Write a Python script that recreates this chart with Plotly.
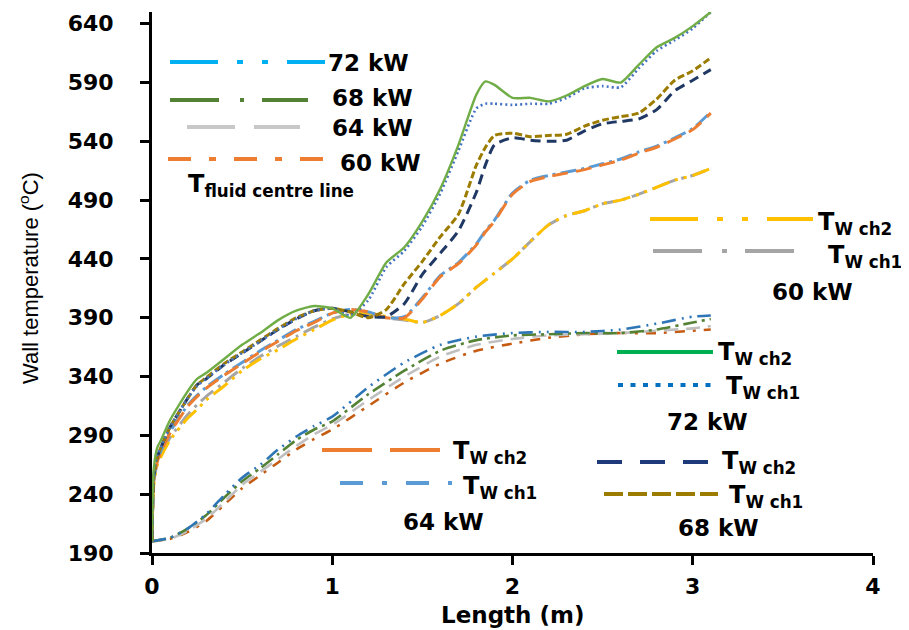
import plotly.graph_objects as go

# ---------------- data ----------------
LENGTH_WALL = [0, 0.01, 0.03, 0.05, 0.1, 0.2, 0.25, 0.3, 0.4, 0.5, 0.6, 0.7, 0.8, 0.9, 1.0,
               1.1, 1.2, 1.3, 1.4, 1.5, 1.6, 1.7, 1.8, 1.85, 1.9, 2.0, 2.1, 2.2, 2.3, 2.4,
               2.5, 2.6, 2.7, 2.8, 2.9, 3.0, 3.1]

TW_CH2_72 = [200, 262, 280, 286, 303, 328, 338, 343, 355, 367, 377, 388, 396, 400, 398,
             390, 410, 437, 450, 472, 500, 537, 580, 591, 588, 577, 577, 574, 579, 587,
             593, 590, 605, 620, 628, 638, 650]
TW_CH1_72 = [200, 258, 274, 280, 297, 322, 332, 338, 350, 360, 370, 380, 389, 396, 398,
             392, 405, 433, 447, 468, 496, 532, 568, 572, 572, 571, 572, 572, 577, 585,
             587, 586, 602, 617, 626, 636, 650]
TW_CH2_68 = [200, 256, 272, 280, 297, 322, 333, 338, 350, 360, 370, 380, 389, 396, 398,
             395, 391, 391, 402, 427, 445, 464, 497, 520, 537, 543, 541, 540, 541, 549,
             555, 557, 559, 567, 583, 592, 601]
TW_CH1_68 = [200, 256, 272, 280, 297, 322, 333, 339, 351, 361, 371, 381, 390, 396, 398,
             395, 390, 397, 419, 438, 459, 478, 520, 535, 545, 547, 544, 545, 546, 553,
             558, 561, 564, 576, 592, 600, 611]
TW_CH2_64 = [200, 252, 268, 276, 292, 315, 323, 330, 341, 351, 361, 370, 379, 386, 394,
             397, 395, 390, 390, 406, 425, 436, 452, 463, 472, 495, 506, 510, 513, 516,
             520, 524, 530, 535, 542, 550, 564]
TW_CH1_64 = [200, 253, 269, 277, 293, 316, 324, 331, 342, 352, 362, 371, 380, 387, 394,
             397, 395, 390, 391, 407, 426, 437, 453, 464, 473, 496, 507, 511, 514, 517,
             521, 525, 531, 536, 543, 551, 565]
TW_CH2_60 = [200, 248, 265, 272, 286, 305, 312, 320, 332, 345, 355, 363, 372, 380, 388,
             393, 394, 391, 389, 386, 392, 402, 416, 422, 428, 440, 455, 469, 477, 481,
             487, 490, 495, 501, 507, 511, 517]
TW_CH1_60 = [200, 250, 267, 274, 288, 308, 316, 323, 335, 347, 357, 366, 374, 382, 389,
             393, 393, 390, 388, 386, 392, 402, 416, 422, 428, 440, 455, 469, 477, 481,
             487, 490, 495, 501, 507, 511, 517]

LENGTH_FLUID = [0, 0.1, 0.2, 0.3, 0.4, 0.5, 0.6, 0.7, 0.8, 0.9, 1.0, 1.2, 1.4, 1.6, 1.8,
                2.0, 2.2, 2.4, 2.6, 2.8, 3.0, 3.1]
TF_72 = [200, 203, 211, 223, 239, 254, 265, 278, 289, 298, 306, 331, 352, 367, 374,
         377, 378, 378, 380, 385, 391, 392]
TF_68 = [200, 203, 211, 222, 237, 251, 262, 274, 286, 295, 302, 325, 345, 362, 371,
         375, 376, 377, 377, 380, 386, 389]
TF_64 = [200, 202, 209, 219, 233, 248, 259, 270, 281, 291, 299, 320, 340, 357, 367,
         372, 375, 376, 377, 379, 381, 383]
TF_60 = [200, 202, 208, 217, 231, 245, 256, 267, 278, 287, 295, 315, 335, 351, 362,
         368, 373, 376, 377, 377, 379, 380]

X_TICKS = [0, 1, 2, 3, 4]
Y_TICKS = [190, 240, 290, 340, 390, 440, 490, 540, 590, 640]

# ---------------- figure ----------------
# the page body has an 8px margin; screen positions below are compensated for it
OFF = 8
W, H = 909, 630
PLOT_X0, PLOT_X1, PLOT_Y0, PLOT_Y1 = 152, 873, 12, 553   # on-screen plot area
L = PLOT_X0 - OFF
T = PLOT_Y0 - OFF
R = W - (PLOT_X1 - OFF)
B = H - (PLOT_Y1 - OFF)
PW, PH = PLOT_X1 - PLOT_X0, PLOT_Y1 - PLOT_Y0

fig = go.Figure()

def add(x, y, color, dash, width=2.6):
    fig.add_trace(go.Scatter(x=x, y=y, mode="lines",
                             line=dict(color=color, dash=dash, width=width,
                                       shape="spline", smoothing=0.6),
                             showlegend=False, hoverinfo="skip"))

# fluid centre line
add(LENGTH_FLUID, TF_60, "#C55A11", "10px,8px,3px,8px")
add(LENGTH_FLUID, TF_64, "#BFBFBF", "14px,8px")
add(LENGTH_FLUID, TF_68, "#548235", "14px,5px,3px,5px")
add(LENGTH_FLUID, TF_72, "#2E75B6", "14px,6px,2px,6px,2px,6px")

# wall temperatures
add(LENGTH_WALL, TW_CH1_60, "#A5A5A5", "16px,6px,3px,6px", 3)
add(LENGTH_WALL, TW_CH2_60, "#FFC000", "18px,6px,3px,6px,3px,6px", 3)
add(LENGTH_WALL, TW_CH1_64, "#5B9BD5", "16px,5px,3px,5px", 3)
add(LENGTH_WALL, TW_CH2_64, "#ED7D31", "16px,8px", 3)
add(LENGTH_WALL, TW_CH2_68, "#203864", "10px,6px", 3)
add(LENGTH_WALL, TW_CH1_68, "#9C7C00", "7px,3px", 3)
add(LENGTH_WALL, TW_CH1_72, "#4472C4", "2px,3px", 2.6)
add(LENGTH_WALL, TW_CH2_72, "#70AD47", "solid", 2.4)

# ---------------- legend decorations (screen pixel -> paper) ----------------
def px(x):
    return (x - PLOT_X0) / PW
def py(y):
    return (PLOT_Y1 - y) / PH

def sample(x0, x1, y, color, dash, width=4):
    fig.add_shape(type="line", xref="paper", yref="paper",
                  x0=px(x0), x1=px(x1), y0=py(y), y1=py(y),
                  line=dict(color=color, dash=dash, width=width))

BOLD = dict(family="DejaVu Sans", size=23, color="black", weight="bold")
TFONT = dict(family="DejaVu Sans", size=24, color="black", weight="bold")

def label(x, y, text, font=BOLD):
    fig.add_annotation(xref="paper", yref="paper", x=px(x), y=py(y), text=text,
                       showarrow=False, xanchor="left", yanchor="middle", font=font)

# top-left block (fluid centre line)
sample(170, 325, 62, "#00B0F0", "48px,19px,6px,19px,6px,19px")
sample(170, 308, 100, "#548235", "49px,21px,4px,18px")
sample(187, 300, 127, "#C8C8C8", "48px,19px")
sample(168, 327, 159, "#ED7D31", "23px,18px,7px,18px")
label(326, 63, "72 kW")
label(330, 98, "68 kW")
label(330, 128, "64 kW")
label(338, 163, "60 kW")
label(186, 186, "T<sub>fluid centre line</sub>", TFONT)

# 60 kW wall block
sample(650, 813, 219, "#FFC000", "48px,19px,6px,19px,6px,19px")
sample(653, 813, 251, "#A5A5A5", "49px,20px,5px,18px")
label(816, 223, "T<sub>W ch2</sub>", TFONT)
label(826, 257, "T<sub>W ch1</sub>", TFONT)
label(770, 292, "60 kW")

# 72 kW wall block
sample(617, 713, 352, "#00B050", "solid")
sample(618, 712, 385, "#0070C0", "5px,7.5px")
label(716, 353, "T<sub>W ch2</sub>", TFONT)
label(724, 387, "T<sub>W ch1</sub>", TFONT)
label(665, 422, "72 kW")

# 68 kW wall block
sample(597, 708, 462, "#1F3A7A", "25px,18px")
sample(604, 718, 494, "#9C7C00", "19px,5px")
label(720, 462, "T<sub>W ch2</sub>", TFONT)
label(727, 496, "T<sub>W ch1</sub>", TFONT)
label(676, 528, "68 kW")

# 64 kW wall block
sample(322, 440, 450, "#ED7D31", "50px,18px")
sample(340, 452, 483, "#5B9BD5", "23px,19px,5px,19px")
label(451, 452, "T<sub>W ch2</sub>", TFONT)
label(461, 487, "T<sub>W ch1</sub>", TFONT)
label(401, 522, "64 kW")

# axis titles
fig.add_annotation(xref="paper", yref="paper", x=px(512), y=py(615),
                   text="Length (m)", showarrow=False, xanchor="center", yanchor="middle",
                   font=dict(family="DejaVu Sans", size=23, color="black", weight="bold"))
fig.add_annotation(xref="paper", yref="paper", x=px(29), y=py(278),
                   text="Wall temperature (<sup>o</sup>C)", showarrow=False, textangle=-90,
                   xanchor="center", yanchor="middle",
                   font=dict(family="Liberation Sans", size=22, color="black"))

axis_common = dict(showline=True, linecolor="black", linewidth=3, ticks="outside",
                   ticklen=9, tickwidth=3, tickcolor="black", showgrid=False,
                   zeroline=False, automargin=False,
                   tickfont=dict(family="DejaVu Sans", size=22, color="black", weight="bold"))

fig.update_layout(
    width=W, height=H, margin=dict(l=L, r=R, t=T, b=B),
    paper_bgcolor="white", plot_bgcolor="white", showlegend=False,
    xaxis=dict(range=[0, 4], tickvals=X_TICKS, ticklabelstandoff=3, **axis_common),
    yaxis=dict(range=[190, 650], tickvals=Y_TICKS, ticklabelstandoff=22, **axis_common),
)

fig.write_html("out.html")
